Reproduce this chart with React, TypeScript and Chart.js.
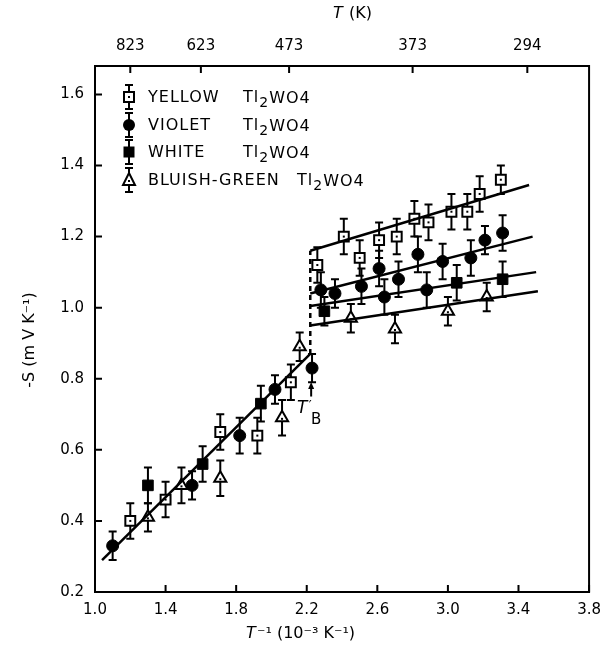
import React, { useEffect, useRef } from 'react';
import { Chart, registerables } from 'chart.js';

Chart.register(...registerables);

// ---------- axes ----------
const X_MIN = 1.0;
const X_MAX = 3.8;
const Y_MIN = 0.2;
const Y_MAX = 1.68;
const xTicks = [1.0, 1.4, 1.8, 2.2, 2.6, 3.0, 3.4, 3.8];
const yTicks = [0.2, 0.4, 0.6, 0.8, 1.0, 1.2, 1.4, 1.6];
const topTickPos = [1.2, 1.6, 2.1, 2.8, 3.45];
const topTickLabels = ['823', '623', '473', '373', '294'];

// ---------- data ----------
const yellowX = [1.2, 1.4, 1.71, 1.92, 2.11, 2.26, 2.41, 2.5, 2.61, 2.71, 2.81, 2.89, 3.02, 3.11, 3.18, 3.3];
const yellowY = [0.4, 0.46, 0.65, 0.64, 0.79, 1.12, 1.2, 1.14, 1.19, 1.2, 1.25, 1.24, 1.27, 1.27, 1.32, 1.36];
const yellowErr = [0.05, 0.05, 0.05, 0.05, 0.05, 0.05, 0.05, 0.05, 0.05, 0.05, 0.05, 0.05, 0.05, 0.05, 0.05, 0.04];

const violetX = [1.1, 1.55, 1.82, 2.02, 2.23, 2.28, 2.36, 2.51, 2.61, 2.64, 2.72, 2.83, 2.88, 2.97, 3.13, 3.21, 3.31];
const violetY = [0.33, 0.5, 0.64, 0.77, 0.83, 1.05, 1.04, 1.06, 1.11, 1.03, 1.08, 1.15, 1.05, 1.13, 1.14, 1.19, 1.21];
const violetErr = [0.04, 0.04, 0.05, 0.04, 0.04, 0.05, 0.04, 0.05, 0.05, 0.05, 0.05, 0.05, 0.05, 0.05, 0.05, 0.04, 0.05];

const whiteX = [1.3, 1.61, 1.94, 2.3, 3.05, 3.31];
const whiteY = [0.5, 0.56, 0.73, 0.99, 1.07, 1.08];
const whiteErr = [0.05, 0.05, 0.05, 0.04, 0.05, 0.05];

const greenX = [1.3, 1.49, 1.71, 2.06, 2.16, 2.45, 2.7, 3.0, 3.22];
const greenY = [0.41, 0.5, 0.52, 0.69, 0.89, 0.97, 0.94, 0.99, 1.03];
const greenErr = [0.04, 0.05, 0.05, 0.05, 0.04, 0.04, 0.04, 0.04, 0.04];

// fitted lines
const lowLineX = [1.04, 2.22];
const lowLineY = [0.29, 0.87];
const yellowLineX = [2.22, 3.46];
const yellowLineY = [1.16, 1.345];
const violetLineX = [2.22, 3.48];
const violetLineY = [1.04, 1.2];
const whiteLineX = [2.22, 3.5];
const whiteLineY = [1.005, 1.1];
const greenLineX = [2.22, 3.51];
const greenLineY = [0.95, 1.046];
const transX = [2.22, 2.22];
const transY = [0.87, 1.16];

const legendNames = ['YELLOW', 'VIOLET', 'WHITE', 'BLUISH-GREEN'];
const formula = ['Tl', '2', 'WO4'];

const pts = (xs: number[], ys: number[]) => xs.map((v, i) => ({ x: v, y: ys[i] }));

const FONT = '"DejaVu Sans", sans-serif';

function drawMarker(ctx: CanvasRenderingContext2D, kind: string, px: number, py: number) {
  ctx.save();
  ctx.lineWidth = 2;
  ctx.strokeStyle = '#000';
  ctx.fillStyle = '#000';
  if (kind === 'yellow') {
    ctx.fillStyle = '#fff';
    ctx.fillRect(px - 5, py - 5, 10, 10);
    ctx.strokeRect(px - 5, py - 5, 10, 10);
    ctx.fillStyle = '#000';
    ctx.fillRect(px - 1, py - 1, 2, 2);
  } else if (kind === 'violet') {
    ctx.beginPath();
    ctx.arc(px, py, 6, 0, Math.PI * 2);
    ctx.fill();
  } else if (kind === 'white') {
    ctx.fillRect(px - 5.5, py - 5.5, 11, 11);
  } else {
    ctx.fillStyle = '#fff';
    ctx.beginPath();
    ctx.moveTo(px, py - 7);
    ctx.lineTo(px + 6, py + 5);
    ctx.lineTo(px - 6, py + 5);
    ctx.closePath();
    ctx.fill();
    ctx.stroke();
    ctx.fillStyle = '#000';
    ctx.fillRect(px - 1, py, 2, 2);
  }
  ctx.restore();
}

function drawErr(ctx: CanvasRenderingContext2D, px: number, y1: number, y2: number) {
  ctx.beginPath();
  ctx.moveTo(px, y1);
  ctx.lineTo(px, y2);
  ctx.moveTo(px - 4, y1);
  ctx.lineTo(px + 4, y1);
  ctx.moveTo(px - 4, y2);
  ctx.lineTo(px + 4, y2);
  ctx.stroke();
}

const deco = {
  id: 'deco',
  beforeDatasetsDraw(chart: any) {
    const { ctx, chartArea: a, scales } = chart;
    const x = scales.x;
    const y = scales.y;
    const x2 = scales.x2;
    ctx.save();
    ctx.strokeStyle = '#000';
    ctx.lineWidth = 2;
    ctx.strokeRect(a.left, a.top, a.right - a.left, a.bottom - a.top);
    ctx.beginPath();
    xTicks.forEach((v) => {
      const p = x.getPixelForValue(v);
      ctx.moveTo(p, a.bottom);
      ctx.lineTo(p, a.bottom - 7);
    });
    yTicks.forEach((v) => {
      const p = y.getPixelForValue(v);
      ctx.moveTo(a.left, p);
      ctx.lineTo(a.left + 7, p);
    });
    topTickPos.forEach((v) => {
      const p = x2.getPixelForValue(v);
      ctx.moveTo(p, a.top);
      ctx.lineTo(p, a.top + 7);
    });
    ctx.stroke();
    // error bars
    chart.data.datasets.forEach((ds: any) => {
      if (!ds.err) return;
      ds.data.forEach((p: any, j: number) => {
        const px = x.getPixelForValue(p.x);
        drawErr(ctx, px, y.getPixelForValue(p.y - ds.err[j]), y.getPixelForValue(p.y + ds.err[j]));
      });
    });
    ctx.restore();
  },
  afterDatasetsDraw(chart: any) {
    const { ctx, scales } = chart;
    const x = scales.x;
    const y = scales.y;
    ctx.save();
    // center dots
    chart.data.datasets.forEach((ds: any) => {
      if (!ds.dot) return;
      ds.data.forEach((p: any) => {
        const px = x.getPixelForValue(p.x);
        const py = y.getPixelForValue(p.y);
        ctx.fillStyle = '#000';
        ctx.fillRect(px - 1, py - (ds.dot === 'tri' ? 0 : 1), 2, 2);
      });
    });
    // legend
    const kinds = ['yellow', 'violet', 'white', 'green'];
    const rowsY = [97, 125, 152, 180];
    ctx.fillStyle = '#000';
    ctx.strokeStyle = '#000';
    ctx.lineWidth = 2;
    ctx.textBaseline = 'middle';
    ctx.textAlign = 'left';
    (ctx as any).letterSpacing = '1px';
    rowsY.forEach((ry, i) => {
      drawErr(ctx, 129, ry - 12, ry + 12);
      drawMarker(ctx, kinds[i], 129, ry);
      ctx.font = `16px ${FONT}`;
      ctx.fillText(legendNames[i], 148, ry + 1);
      const fx = i === 3 ? 297 : 243;
      ctx.fillText(formula[0], fx, ry + 1);
      const w0 = ctx.measureText(formula[0]).width;
      ctx.font = `14px ${FONT}`;
      ctx.fillText(formula[1], fx + w0, ry + 6);
      const w1 = ctx.measureText(formula[1]).width;
      ctx.font = `16px ${FONT}`;
      ctx.fillText(formula[2], fx + w0 + w1, ry + 2);
    });
    (ctx as any).letterSpacing = '0px';
    // T'_B arrow
    const ax = x.getPixelForValue(2.225);
    const ayTop = y.getPixelForValue(0.785);
    const ayBot = y.getPixelForValue(0.75);
    ctx.beginPath();
    ctx.moveTo(ax, ayBot);
    ctx.lineTo(ax, ayTop + 3);
    ctx.stroke();
    ctx.beginPath();
    ctx.moveTo(ax, ayTop - 2);
    ctx.lineTo(ax - 3, ayTop + 5);
    ctx.lineTo(ax + 3, ayTop + 5);
    ctx.closePath();
    ctx.fill();
    ctx.font = `italic 17px ${FONT}`;
    ctx.textAlign = 'center';
    ctx.fillText('T', ax - 9, y.getPixelForValue(0.715));
    ctx.font = `13px ${FONT}`;
    ctx.fillText('′', ax - 1, y.getPixelForValue(0.725));
    ctx.font = `15px ${FONT}`;
    ctx.fillText('B', ax + 5, y.getPixelForValue(0.685));
    // titles
    ctx.textBaseline = 'middle';
    ctx.textAlign = 'left';
    ctx.font = `italic 16px ${FONT}`;
    ctx.fillText('T', 333, 14);
    ctx.font = `16px ${FONT}`;
    ctx.fillText(' (K)', 344, 14);
    ctx.font = `italic 16px ${FONT}`;
    ctx.fillText('T', 246, 634);
    ctx.font = `16px ${FONT}`;
    ctx.fillText('⁻¹ (10⁻³ K⁻¹)', 257, 634);
    ctx.translate(30, 340);
    ctx.rotate(-Math.PI / 2);
    ctx.textAlign = 'center';
    ctx.font = `16px ${FONT}`;
    ctx.fillText('-S (m V K⁻¹)', 0, 0);
    ctx.restore();
  },
};

const lineDs = (xs: number[], ys: number[], dash?: number[]) => ({
  type: 'line' as const,
  data: pts(xs, ys),
  borderColor: '#000',
  borderWidth: 2.5,
  borderDash: dash || [],
  pointRadius: 0,
  fill: false,
  showLine: true,
});

export default function App() {
  const ref = useRef<HTMLCanvasElement>(null);
  useEffect(() => {
    document.body.style.margin = '0';
    const chart = new Chart(ref.current as HTMLCanvasElement, {
      type: 'scatter',
      data: {
        datasets: [
          lineDs(lowLineX, lowLineY),
          lineDs(yellowLineX, yellowLineY),
          lineDs(violetLineX, violetLineY),
          lineDs(whiteLineX, whiteLineY),
          lineDs(greenLineX, greenLineY),
          lineDs(transX, transY, [5, 4]),
          {
            label: 'YELLOW',
            data: pts(yellowX, yellowY),
            err: yellowErr,
            dot: 'sq',
            pointStyle: 'rect',
            pointRadius: 7,
            backgroundColor: '#fff',
            borderColor: '#000',
            borderWidth: 2,
          } as any,
          {
            label: 'VIOLET',
            data: pts(violetX, violetY),
            err: violetErr,
            pointStyle: 'circle',
            pointRadius: 6,
            backgroundColor: '#000',
            borderColor: '#000',
            borderWidth: 1,
          } as any,
          {
            label: 'WHITE',
            data: pts(whiteX, whiteY),
            err: whiteErr,
            pointStyle: 'rect',
            pointRadius: 7.5,
            backgroundColor: '#000',
            borderColor: '#000',
            borderWidth: 1,
          } as any,
          {
            label: 'BLUISH-GREEN',
            data: pts(greenX, greenY),
            err: greenErr,
            dot: 'tri',
            pointStyle: 'triangle',
            pointRadius: 7,
            backgroundColor: '#fff',
            borderColor: '#000',
            borderWidth: 2,
          } as any,
        ],
      },
      options: {
        animation: false,
        responsive: false,
        layout: { padding: { left: 0, right: 12, top: 0, bottom: 0 } },
        plugins: { legend: { display: false }, tooltip: { enabled: false }, title: { display: false } },
        scales: {
          x: {
            type: 'linear',
            position: 'bottom',
            min: X_MIN,
            max: X_MAX,
            afterBuildTicks: (s: any) => {
              s.ticks = xTicks.map((v) => ({ value: v }));
            },
            afterFit: (s: any) => {
              s.height = 62;
            },
            grid: { display: false, drawTicks: false },
            border: { display: false },
            ticks: {
              padding: 9,
              color: '#000',
              font: { family: FONT, size: 15 },
              callback: (v: any) => Number(v).toFixed(1),
              maxRotation: 0,
            },
          },
          x2: {
            type: 'linear',
            position: 'top',
            min: X_MIN,
            max: X_MAX,
            afterBuildTicks: (s: any) => {
              s.ticks = topTickPos.map((v) => ({ value: v }));
            },
            afterFit: (s: any) => {
              s.height = 66;
            },
            grid: { display: false, drawTicks: false },
            border: { display: false },
            ticks: {
              padding: 11,
              color: '#000',
              font: { family: FONT, size: 15 },
              callback: (_v: any, i: number) => topTickLabels[i],
              maxRotation: 0,
            },
          },
          y: {
            type: 'linear',
            min: Y_MIN,
            max: Y_MAX,
            afterBuildTicks: (s: any) => {
              s.ticks = yTicks.map((v) => ({ value: v }));
            },
            afterFit: (s: any) => {
              s.width = 95;
            },
            grid: { display: false, drawTicks: false },
            border: { display: false },
            ticks: {
              padding: 11,
              color: '#000',
              font: { family: FONT, size: 15 },
              callback: (v: any) => Number(v).toFixed(1),
            },
          },
        },
      } as any,
      plugins: [deco],
    });
    return () => chart.destroy();
  }, []);
  return <canvas ref={ref} width={610} height={654} style={{ display: 'block' }} />;
}
